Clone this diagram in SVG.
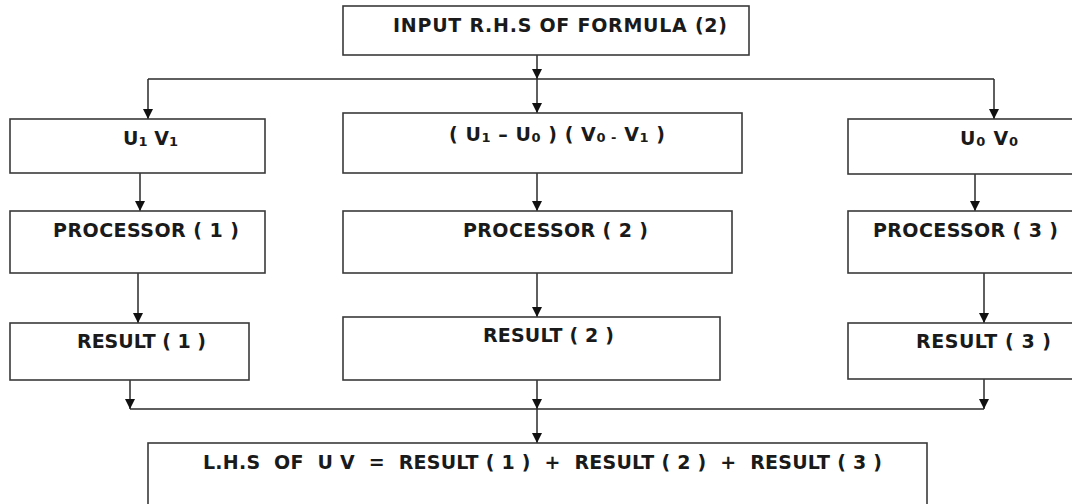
<svg xmlns="http://www.w3.org/2000/svg" width="1072" height="504" viewBox="0 0 1072 504">
<style>
.box{fill:#fff;stroke:#3a3a3a;stroke-width:1.6}
.t{font-family:"DejaVu Sans","Liberation Sans",sans-serif;font-weight:bold;font-size:19px;fill:#1a1a1a}
.s{font-size:13px}
.c{fill:none;stroke:#2a2a2a;stroke-width:1.5}
</style>
<defs>
<marker id="ah" markerUnits="userSpaceOnUse" markerWidth="12" markerHeight="10" refX="10" refY="5" orient="auto">
<path d="M0,0 L10,5 L0,10 Z" fill="#111"/>
</marker>
</defs>
<rect width="1072" height="504" fill="#fff"/>
<g id="connectors">
<line class="c" x1="537" y1="55" x2="537" y2="79" marker-end="url(#ah)"/>
<line class="c" x1="148" y1="79" x2="994" y2="79"/>
<line class="c" x1="148" y1="79" x2="148" y2="119" marker-end="url(#ah)"/>
<line class="c" x1="537" y1="79" x2="537" y2="113" marker-end="url(#ah)"/>
<line class="c" x1="994" y1="79" x2="994" y2="119" marker-end="url(#ah)"/>
<line class="c" x1="140" y1="173" x2="140" y2="211" marker-end="url(#ah)"/>
<line class="c" x1="537" y1="173" x2="537" y2="211" marker-end="url(#ah)"/>
<line class="c" x1="975" y1="173" x2="975" y2="211" marker-end="url(#ah)"/>
<line class="c" x1="138" y1="273" x2="138" y2="323" marker-end="url(#ah)"/>
<line class="c" x1="537" y1="273" x2="537" y2="317" marker-end="url(#ah)"/>
<line class="c" x1="984" y1="273" x2="984" y2="323" marker-end="url(#ah)"/>
<line class="c" x1="130" y1="380" x2="130" y2="409" marker-end="url(#ah)"/>
<line class="c" x1="537" y1="380" x2="537" y2="409" marker-end="url(#ah)"/>
<line class="c" x1="984" y1="379" x2="984" y2="409" marker-end="url(#ah)"/>
<line class="c" x1="130" y1="409" x2="984" y2="409"/>
<line class="c" x1="537" y1="409" x2="537" y2="443" marker-end="url(#ah)"/>
</g>
<g id="input">
<rect class="box" x="343" y="6" width="406" height="49"/>
<text class="t" x="393" y="32" textLength="334" lengthAdjust="spacing">INPUT R.H.S OF FORMULA (2)</text>
</g>
<g id="u1v1">
<rect class="box" x="10" y="119" width="255" height="54"/>
<text class="t" x="123" y="145" textLength="55" lengthAdjust="spacing">U<tspan class="s" baseline-shift="-1">1</tspan> V<tspan class="s" baseline-shift="-1">1</tspan></text>
</g>
<g id="mid">
<rect class="box" x="343" y="113" width="399" height="60"/>
<text class="t" x="449" y="141" textLength="216" lengthAdjust="spacing">( U<tspan class="s" baseline-shift="-1">1</tspan> – U<tspan class="s" baseline-shift="-1">0</tspan> ) ( V<tspan class="s" baseline-shift="-1">0</tspan><tspan class="s" baseline-shift="-1"> -</tspan> V<tspan class="s" baseline-shift="-1">1</tspan> )</text>
</g>
<g id="u0v0">
<rect class="box" x="848" y="119" width="230" height="55"/>
<text class="t" x="960" y="145" textLength="58" lengthAdjust="spacing">U<tspan class="s" baseline-shift="-1">0</tspan> V<tspan class="s" baseline-shift="-1">0</tspan></text>
</g>
<g id="proc1">
<rect class="box" x="10" y="211" width="255" height="62"/>
<text class="t" x="53" y="237" textLength="186" lengthAdjust="spacing">PROCESSOR ( 1 )</text>
</g>
<g id="proc2">
<rect class="box" x="343" y="211" width="389" height="62"/>
<text class="t" x="463" y="237" textLength="185" lengthAdjust="spacing">PROCESSOR ( 2 )</text>
</g>
<g id="proc3">
<rect class="box" x="848" y="211" width="230" height="62"/>
<text class="t" x="873" y="237" textLength="185" lengthAdjust="spacing">PROCESSOR ( 3 )</text>
</g>
<g id="res1">
<rect class="box" x="10" y="323" width="239" height="57"/>
<text class="t" x="77" y="348" textLength="129" lengthAdjust="spacing">RESULT ( 1 )</text>
</g>
<g id="res2">
<rect class="box" x="343" y="317" width="377" height="63"/>
<text class="t" x="483" y="342" textLength="131" lengthAdjust="spacing">RESULT ( 2 )</text>
</g>
<g id="res3">
<rect class="box" x="848" y="323" width="230" height="56"/>
<text class="t" x="916" y="348" textLength="135" lengthAdjust="spacing">RESULT ( 3 )</text>
</g>
<g id="lhs">
<rect class="box" x="148" y="443" width="779" height="70"/>
<text class="t" x="203" y="469" textLength="679" lengthAdjust="spacing" xml:space="preserve">L.H.S  OF  U V  =  RESULT ( 1 )  +  RESULT ( 2 )  +  RESULT ( 3 )</text>
</g>
</svg>
